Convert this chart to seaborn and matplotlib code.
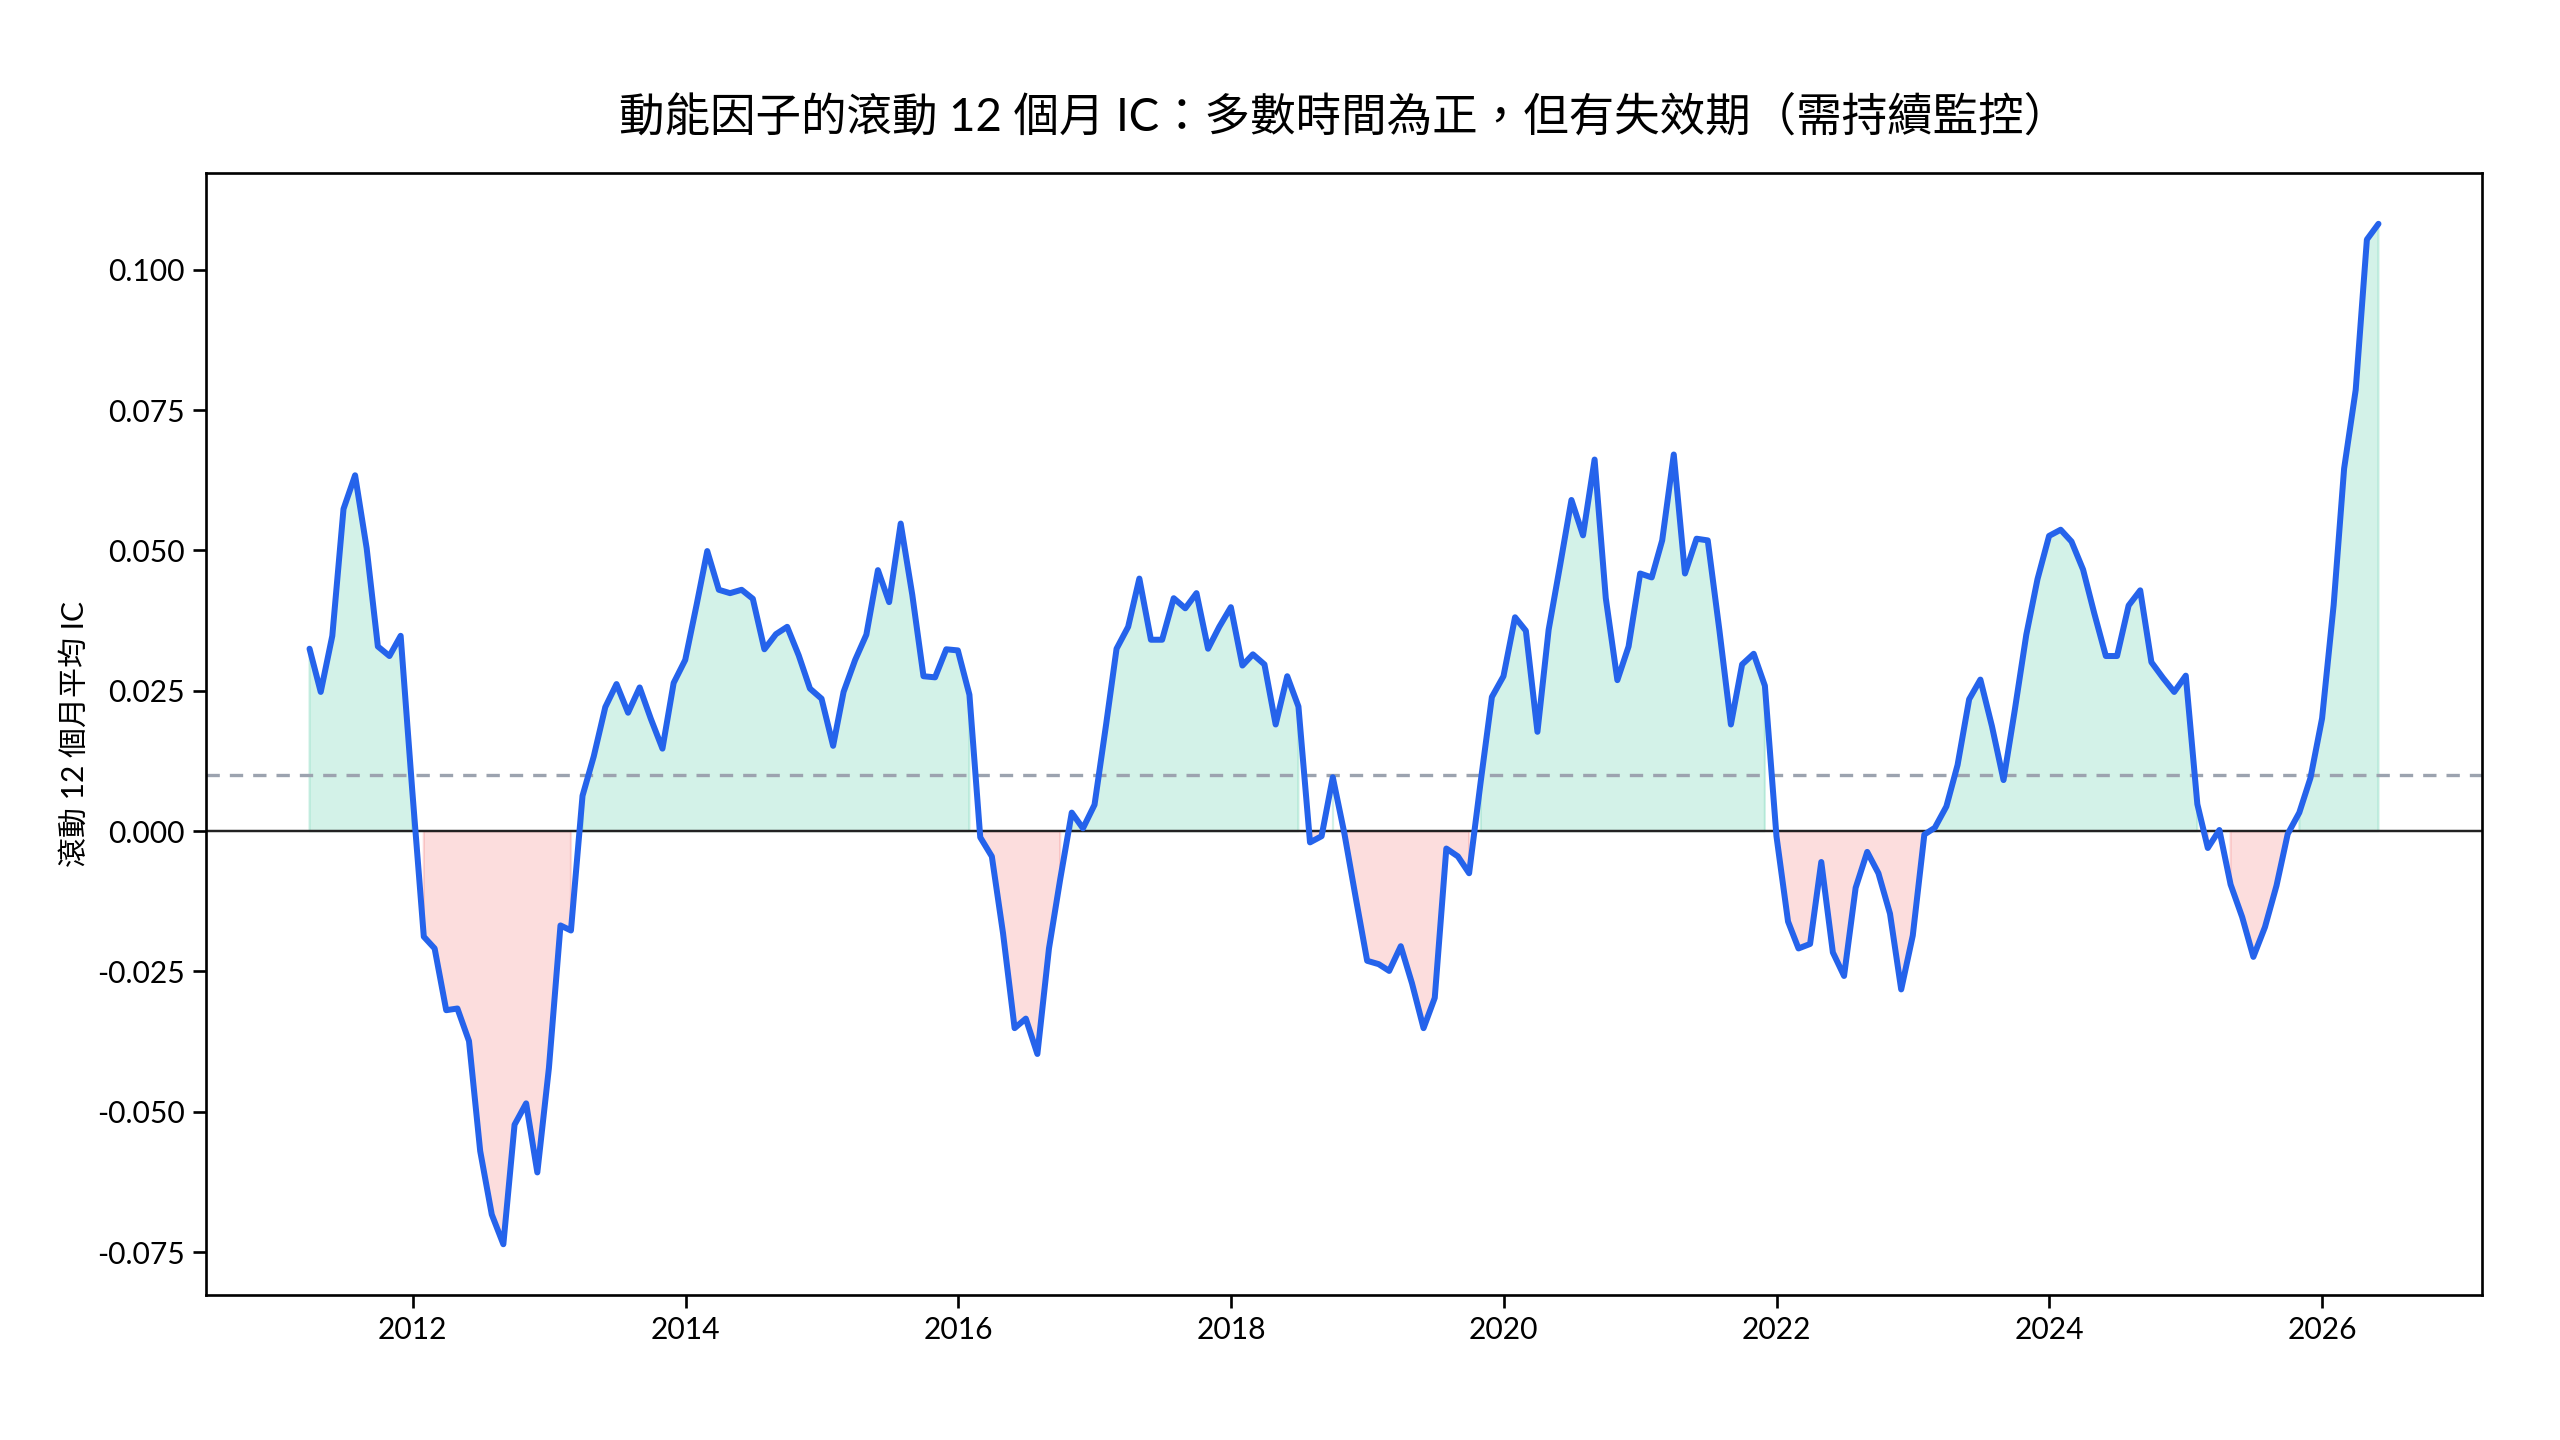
import numpy as np
import pandas as pd
import seaborn as sns
import matplotlib.pyplot as plt
import matplotlib.dates as mdates

# rolling 12-month mean IC, month-end, 2011-03 .. 2026-05
start_month = "2011-03-31"
ic_values = [
    0.0325, 0.0248, 0.0348, 0.0574, 0.0634, 0.0504, 0.0329, 0.0312, 0.0348, 0.0073,
    -0.0188, -0.0209, -0.0319, -0.0316, -0.0374, -0.0570, -0.0683, -0.0736, -0.0523, -0.0485,
    -0.0608, -0.0422, -0.0168, -0.0177, 0.0063, 0.0133, 0.0221, 0.0262, 0.0211, 0.0256,
    0.0200, 0.0147, 0.0264, 0.0305, 0.0405, 0.0499, 0.0430, 0.0424, 0.0430, 0.0414,
    0.0324, 0.0351, 0.0364, 0.0313, 0.0254, 0.0236, 0.0152, 0.0248, 0.0305, 0.0350,
    0.0465, 0.0408, 0.0548, 0.0421, 0.0276, 0.0274, 0.0324, 0.0322, 0.0243, -0.0011,
    -0.0045, -0.0182, -0.0351, -0.0334, -0.0397, -0.0209, -0.0086, 0.0033, 0.0005, 0.0047,
    0.0190, 0.0325, 0.0364, 0.0450, 0.0341, 0.0341, 0.0415, 0.0397, 0.0424, 0.0325,
    0.0364, 0.0399, 0.0295, 0.0315, 0.0297, 0.0190, 0.0276, 0.0222, -0.0020, -0.0009,
    0.0096, -0.0004, -0.0117, -0.0231, -0.0237, -0.0249, -0.0205, -0.0271, -0.0351, -0.0297,
    -0.0031, -0.0045, -0.0075, 0.0088, 0.0239, 0.0276, 0.0381, 0.0357, 0.0177, 0.0359,
    0.0475, 0.0590, 0.0527, 0.0662, 0.0415, 0.0269, 0.0329, 0.0459, 0.0452, 0.0518,
    0.0671, 0.0459, 0.0521, 0.0518, 0.0359, 0.0190, 0.0297, 0.0316, 0.0259, -0.0009,
    -0.0161, -0.0209, -0.0201, -0.0055, -0.0216, -0.0258, -0.0101, -0.0037, -0.0075, -0.0147,
    -0.0282, -0.0186, -0.0006, 0.0006, 0.0044, 0.0118, 0.0235, 0.0270, 0.0187, 0.0091,
    0.0215, 0.0350, 0.0449, 0.0526, 0.0537, 0.0516, 0.0466, 0.0388, 0.0312, 0.0312,
    0.0402, 0.0429, 0.0301, 0.0273, 0.0248, 0.0277, 0.0048, -0.0030, 0.0002, -0.0095,
    -0.0153, -0.0224, -0.0171, -0.0097, -0.0005, 0.0033, 0.0095, 0.0201, 0.0403, 0.0646,
    0.0786, 0.1054, 0.1082,
]
threshold = 0.01

title = "動能因子的滾動 12 個月 IC：多數時間為正，但有失效期（需持續監控）"
ylabel = "滾動 12 個月平均 IC"

dates = pd.date_range(start_month, periods=len(ic_values), freq="ME")
df = pd.DataFrame({"date": dates, "ic": ic_values})

sns.set_theme(style="ticks")
plt.rcParams["font.family"] = ["Lato", "Noto Sans CJK TC", "DejaVu Sans"]
plt.rcParams["axes.unicode_minus"] = False
plt.rcParams["text.color"] = "black"
plt.rcParams["axes.labelcolor"] = "black"
plt.rcParams["xtick.labelcolor"] = "black"
plt.rcParams["ytick.labelcolor"] = "black"

fig, ax = plt.subplots(figsize=(16, 9), dpi=160)
fig.subplots_adjust(left=0.0805, right=0.9695, bottom=0.1005, top=0.880)

ic = df["ic"].to_numpy()
ax.fill_between(df["date"], ic, 0, where=ic >= 0, color="#10b981", alpha=0.18)
ax.fill_between(df["date"], ic, 0, where=ic < 0, color="#ef4444", alpha=0.18)
ax.axhline(0, color="#222222", lw=1.1, zorder=1)
ax.axhline(threshold, color="#9ca3af", lw=1.5, ls="--", dashes=(4, 3), zorder=1)
sns.lineplot(data=df, x="date", y="ic", color="#2563eb", lw=2.7, ax=ax, zorder=3)

ax.xaxis.set_major_locator(mdates.YearLocator(2))
ax.xaxis.set_major_formatter(mdates.DateFormatter("%Y"))
ax.yaxis.set_major_formatter(plt.FormatStrFormatter("%.3f"))
ax.tick_params(labelsize=13.5, length=6, width=1.2, color="black")
for sp in ax.spines.values():
    sp.set_color("black")
    sp.set_linewidth(1.2)

ax.set_xlabel("")
ax.set_ylabel(ylabel, fontsize=13.5)
ax.set_title(title, fontsize=20.5, pad=19)

fig.savefig("out.png", dpi=160)
